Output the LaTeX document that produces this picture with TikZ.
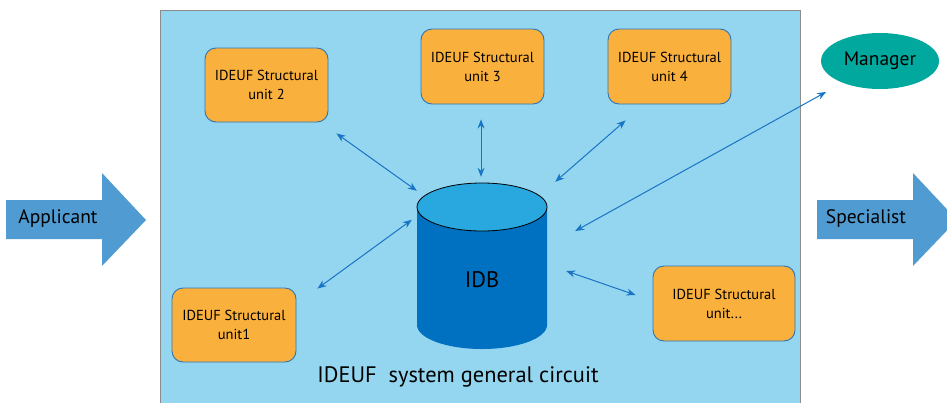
\documentclass[tikz,border=0pt]{standalone}
\usepackage{fontspec}
\setmainfont{PT Sans}
\usetikzlibrary{arrows.meta,shapes.geometric}
\definecolor{panel}{RGB}{148,214,240}
\definecolor{panelline}{RGB}{140,140,140}
\definecolor{unitfill}{RGB}{250,176,60}
\definecolor{unitline}{RGB}{46,117,182}
\definecolor{flow}{RGB}{80,155,210}
\definecolor{mgrfill}{RGB}{0,168,157}
\definecolor{dbside}{RGB}{0,112,192}
\definecolor{dbtop}{RGB}{41,168,224}
\definecolor{linkcol}{RGB}{24,116,196}
\tikzset{
    unitbox/.style = {draw = unitline, fill = unitfill, line width = 0.9pt,
        rounded corners = 11pt, align = center, inner sep = 0pt,
        font = \fontsize{14.5}{19}\selectfont},
    link/.style = {draw = linkcol, line width = 1pt,
        {Stealth[length = 9pt, width = 7pt]}-{Stealth[length = 9pt, width = 7pt]}},
    flowarrow/.style = {fill = flow},
}
\begin{document}
\begin{tikzpicture}[x = 1pt, y = -1pt]
            \useasboundingbox (0, 0) rectangle (947, 402);
            \clip (0, 0) rectangle (947, 402);
            % panel
            \fill[panel] (160, 10) rectangle (800, 410);
            \draw[panelline, line width = 1pt] (160, 410) |- (800, 10) -- (800, 410);
            % flow arrows
            \fill[flowarrow]
                (6, 200) -- (102, 200) -- (102, 173) -- (146, 220)
                -- (102, 266) -- (102, 239) -- (6, 239) -- cycle
                (817, 200) -- (913, 200) -- (913, 173) -- (957, 220)
                -- (913, 266) -- (913, 239) -- (817, 239) -- cycle
            ;
            \node[font = \fontsize{19.5}{22}\selectfont] (app) at (58, 219) {Applicant};
            \node[font = \fontsize{19.5}{22}\selectfont] (spec) at (866, 219) {Specialist};
            % database
            \fill[dbside]
                (417, 207) -- (417, 325)
                arc[start angle = 180, end angle = 360, x radius = 65pt, y radius = 24pt]
                -- (547, 207) -- cycle
            ;
            \filldraw[fill = dbtop, draw = black, line width = 0.8pt]
                (482, 207) ellipse[x radius = 65pt, y radius = 24pt];
            \node[minimum width = 130pt, minimum height = 138pt, inner sep = 0pt,
                font = \fontsize{22.5}{26}\selectfont] (db) at (482, 280) {IDB};
            % units
            \node[unitbox, minimum width = 123pt, minimum height = 74pt] (u2) at (266.5, 85) {IDEUF Structural\\unit 2};
            \node[unitbox, minimum width = 123pt, minimum height = 75pt] (u3) at (482.5, 66.5) {IDEUF Structural\\unit 3};
            \node[unitbox, minimum width = 123pt, minimum height = 75pt] (u4) at (669.5, 66.5) {IDEUF Structural\\unit 4};
            \node[unitbox, minimum width = 124pt, minimum height = 74pt] (u1) at (234, 325) {IDEUF Structural\\unit1};
            \node[unitbox, minimum width = 142pt, minimum height = 75pt] (u5) at (724, 303.5) {IDEUF Structural\\unit...};
            \node[ellipse, fill = mgrfill, minimum width = 118pt, minimum height = 56pt, inner sep = 0pt,
                font = \fontsize{19.5}{22}\selectfont] (mgr) at (880, 61) {Manager};
            \node[font = \fontsize{22.4}{26}\selectfont] (title) at (458, 377) {IDEUF\ \ system general circuit};
            % links
            \draw[link] ([shift = {(8, 11)}]u2.south east) -- ([shift = {(0, -20)}]db.north west);
            \draw[link] ([shift = {(-1.5, 15)}]u3.south) -- ([shift = {(-1, -34)}]db.north);
            \draw[link] ([shift = {(18, 16)}]u4.south west) -- ([shift = {(8, -29)}]db.north east);
            \draw[link] ([shift = {(-12, 11)}]mgr.south west) -- ([shift = {(28, -49)}]db.east);
            \draw[link] ([shift = {(-17, -8.5)}]u5.west) -- ([shift = {(19, -9)}]db.east);
            \draw[link] ([shift = {(21, 1)}]u1.north east) -- ([shift = {(-5, 9)}]db.north west);
        \end{tikzpicture}
\end{document}
